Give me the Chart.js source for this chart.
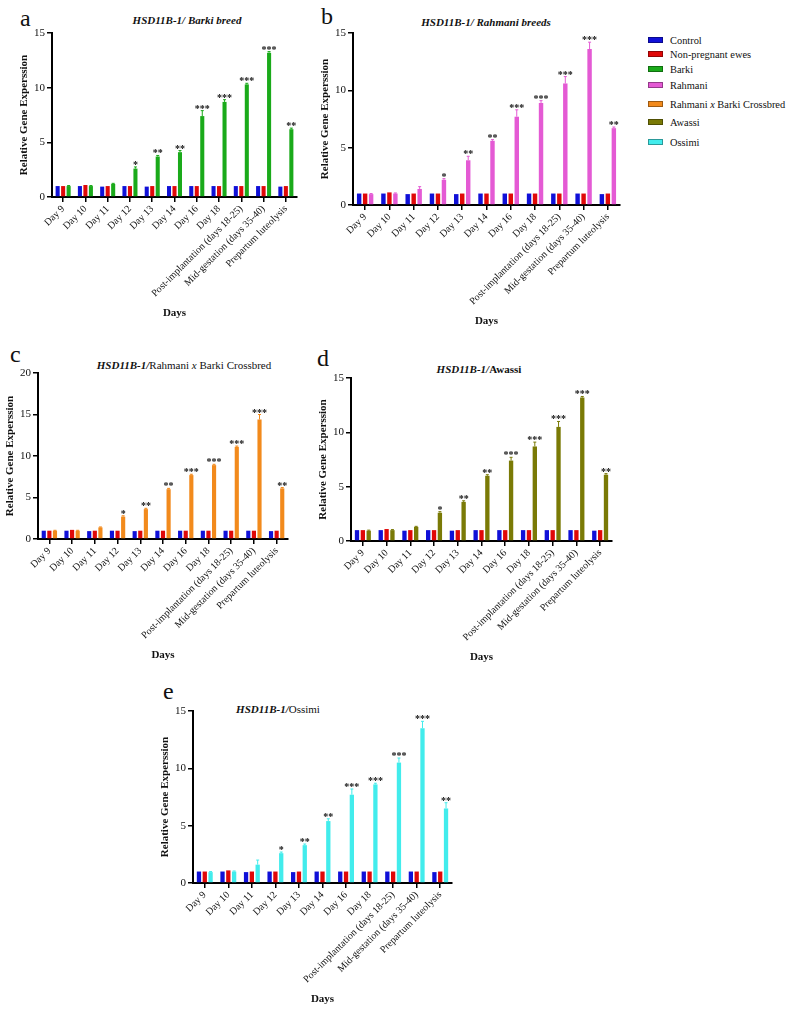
<!DOCTYPE html>
<html>
<head>
<meta charset="utf-8">
<script src="https://cdn.jsdelivr.net/npm/chart.js@4.4.1/dist/chart.umd.min.js"></script>
<style>
  body { margin: 0; background: #fff; font-family: "Liberation Serif", "Times New Roman", serif; color: #111; }
  #page { position: relative; width: 792px; height: 1016px; overflow: hidden; background: #fff; }
  canvas { position: absolute; }
  .letter { position: absolute; font-size: 24px; line-height: 1; }
  .ttl { position: absolute; font-size: 11px; font-weight: bold; white-space: nowrap; transform: translateX(-50%); line-height: 14px; }
  .ttl .n { font-weight: normal; }
  .leg { position: absolute; left: 648px; font-size: 10.4px; line-height: 12px; white-space: nowrap; }
  .sw { display: inline-block; width: 15px; height: 6px; margin-right: 7px; vertical-align: 1px; border: 0.5px solid rgba(0,0,0,0.35); box-sizing: border-box; }
</style>
</head>
<body>
<div id="page">
  <div class="letter" style="left:20px;top:6px">a</div>
  <div class="letter" style="left:321px;top:4px">b</div>
  <div class="letter" style="left:10px;top:342px">c</div>
  <div class="letter" style="left:317px;top:346px">d</div>
  <div class="letter" style="left:163px;top:679px">e</div>

  <div class="ttl" style="left:187px;top:13px"><i>HSD11B-1/ Barki breed</i></div>
  <div class="ttl" style="left:486px;top:15px"><i>HSD11B-1/ Rahmani breeds</i></div>
  <div class="ttl" style="left:184px;top:358px"><i>HSD11B-1/</i><span class="n">Rahmani <i>x</i> Barki Crossbred</span></div>
  <div class="ttl" style="left:479px;top:362px"><i>HSD11B-1/</i>Awassi</div>
  <div class="ttl" style="left:278px;top:702px"><i>HSD11B-1/</i><span class="n">Ossimi</span></div>

  <canvas id="chartA"></canvas>
  <canvas id="chartB"></canvas>
  <canvas id="chartC"></canvas>
  <canvas id="chartD"></canvas>
  <canvas id="chartE"></canvas>
</div>

<script>
// categories and significance marks
const days = ["Day 9", "Day 10", "Day 11", "Day 12", "Day 13", "Day 14", "Day 16", "Day 18",
  "Post-implantation (days 18-25)", "Mid-gestation (days 35-40)", "Prepartum luteolysis"]
const stars = ["", "", "", "*", "**", "**", "***", "***", "***", "***", "**"]

// reference groups (same in every panel)
const control     = [1.0, 1.0, 0.95, 1.0, 0.95, 1.0, 1.0, 1.0, 1.0, 1.0, 0.95]
const nonPregnant = [1.0, 1.1, 1.0, 1.0, 1.0, 1.0, 1.0, 1.0, 1.0, 1.0, 1.0]

// breed series and their error bars
const barki       = [1.0, 1.0, 1.2, 2.6, 3.7, 4.1, 7.4, 8.7, 10.3, 13.2, 6.2]
const barkiErr    = [0.05, 0.05, 0.05, 0.15, 0.1, 0.15, 0.5, 0.2, 0.1, 0.1, 0.1]
const rahmani     = [0.95, 1.0, 1.4, 2.2, 3.9, 5.6, 7.7, 8.9, 10.6, 13.6, 6.7]
const rahmaniErr  = [0.05, 0.05, 0.2, 0.1, 0.35, 0.1, 0.6, 0.2, 0.6, 0.6, 0.1]
const crossbred   = [1.0, 1.0, 1.4, 2.7, 3.6, 6.0, 7.7, 8.9, 11.1, 14.4, 6.1]
const crossErr    = [0.05, 0.05, 0.05, 0.1, 0.1, 0.1, 0.1, 0.1, 0.1, 0.6, 0.1]
const awassi      = [0.95, 1.0, 1.3, 2.6, 3.6, 6.0, 7.4, 8.7, 10.5, 13.2, 6.1]
const awassiErr   = [0.05, 0.05, 0.05, 0.1, 0.1, 0.1, 0.3, 0.4, 0.5, 0.1, 0.1]
const ossimi      = [0.95, 1.0, 1.6, 2.6, 3.3, 5.4, 7.7, 8.6, 10.5, 13.5, 6.5]
const ossimiErr   = [0.05, 0.05, 0.4, 0.1, 0.1, 0.2, 0.5, 0.1, 0.4, 0.6, 0.5]

const yTicksStep = 5

const colors = {
  "Control": "#1010d8",
  "Non-pregnant ewes": "#e00808",
  "Barki": "#1aaa1a",
  "Rahmani": "#e45ad4",
  "Rahmani x Barki Crossbred": "#f28a1c",
  "Awassi": "#7a7a06",
  "Ossimi": "#42ecec"
}

const SERIF = '"Liberation Serif", "Times New Roman", serif'

// legend
const legendTops = [35, 49, 64, 80, 99, 117, 137]
Object.keys(colors).forEach((name, i) => {
  let div = document.createElement('div')
  div.className = 'leg'
  div.style.top = legendTops[i] + 'px'
  let sw = document.createElement('span')
  sw.className = 'sw'
  sw.style.background = colors[name]
  div.appendChild(sw)
  if (name == "Rahmani x Barki Crossbred") {
    div.appendChild(document.createTextNode("Rahmani "))
    let it = document.createElement('i')
    it.textContent = "x"
    div.appendChild(it)
    div.appendChild(document.createTextNode(" Barki Crossbred"))
  } else {
    div.appendChild(document.createTextNode(name))
  }
  document.getElementById('page').appendChild(div)
})

// error bars + stars over the breed bars
const errorStars = {
  id: 'errorStars',
  afterDatasetsDraw(chart) {
    const ds = chart.data.datasets[2]
    const meta = chart.getDatasetMeta(2)
    const yScale = chart.scales.y
    const ctx = chart.ctx
    ctx.save()
    ctx.strokeStyle = ds.backgroundColor
    ctx.lineWidth = 1
    ctx.fillStyle = '#111'
    ctx.font = 'bold 10px ' + SERIF
    ctx.textAlign = 'center'
    ctx.textBaseline = 'alphabetic'
    meta.data.forEach((bar, i) => {
      let top = yScale.getPixelForValue(ds.data[i] + ds.errors[i])
      ctx.beginPath()
      ctx.moveTo(bar.x, bar.y)
      ctx.lineTo(bar.x, top)
      ctx.moveTo(bar.x - 1.5, top)
      ctx.lineTo(bar.x + 1.5, top)
      ctx.stroke()
      if (ds.stars[i]) {
        ctx.fillText(ds.stars[i], bar.x, top + 1)
      }
    })
    ctx.restore()
  }
}

function makePanel(id, box, breedName, breed, errors, yMax){
  const W = 38, H = 125, padT = 10, padR = 4
  let cv = document.getElementById(id)
  cv.width = W + (box.r - box.l) + padR
  cv.height = padT + (box.b - box.t) + H
  cv.style.left = (box.l - W) + 'px'
  cv.style.top = (box.t - padT) + 'px'

  return new Chart(cv, {
    type: 'bar',
    data: {
      labels: days,
      datasets: [
        { label: "Control", data: control, backgroundColor: colors["Control"] },
        { label: "Non-pregnant ewes", data: nonPregnant, backgroundColor: colors["Non-pregnant ewes"] },
        { label: breedName, data: breed, backgroundColor: colors[breedName], errors: errors, stars: stars }
      ]
    },
    options: {
      responsive: false,
      animation: false,
      devicePixelRatio: 1,
      datasets: { bar: { categoryPercentage: 0.74, barPercentage: 0.74, borderWidth: 0 } },
      layout: { padding: { top: padT, right: padR, left: 0, bottom: 0 } },
      plugins: { legend: { display: false }, tooltip: { enabled: false } },
      scales: {
        x: {
          grid: { display: true, drawOnChartArea: false, drawTicks: true, tickLength: 5, color: '#000', lineWidth: 1.5, offset: false },
          border: { color: '#000', width: 2 },
          ticks: { color: '#111', font: { family: SERIF, size: 10 }, minRotation: 45, maxRotation: 45, autoSkip: false, padding: 1 },
          title: { display: true, text: 'Days', color: '#111', font: { family: SERIF, size: 11, weight: 'bold' }, padding: { top: 0, bottom: 2 } },
          afterFit: (s) => { s.height = H }
        },
        y: {
          min: 0,
          max: yMax,
          ticks: { stepSize: yTicksStep, color: '#111', font: { family: SERIF, size: 11 }, padding: 2 },
          grid: { display: true, drawOnChartArea: false, drawTicks: true, tickLength: 5, color: '#000', lineWidth: 1.5 },
          border: { color: '#000', width: 2 },
          title: { display: true, text: 'Relative Gene Experssion', color: '#111', font: { family: SERIF, size: 11, weight: 'bold' }, padding: { top: 4, bottom: 0 } },
          afterFit: (s) => { s.width = W }
        }
      }
    },
    plugins: [errorStars]
  })
}

makePanel('chartA', { l: 52, t: 33, r: 297, b: 197 }, "Barki", barki, barkiErr, 15)
makePanel('chartB', { l: 353, t: 33, r: 620, b: 205 }, "Rahmani", rahmani, rahmaniErr, 15)
makePanel('chartC', { l: 38, t: 373, r: 288, b: 539 }, "Rahmani x Barki Crossbred", crossbred, crossErr, 20)
makePanel('chartD', { l: 351, t: 378, r: 612, b: 541 }, "Awassi", awassi, awassiErr, 15)
makePanel('chartE', { l: 193, t: 711, r: 452, b: 883 }, "Ossimi", ossimi, ossimiErr, 15)
</script>
</body>
</html>
